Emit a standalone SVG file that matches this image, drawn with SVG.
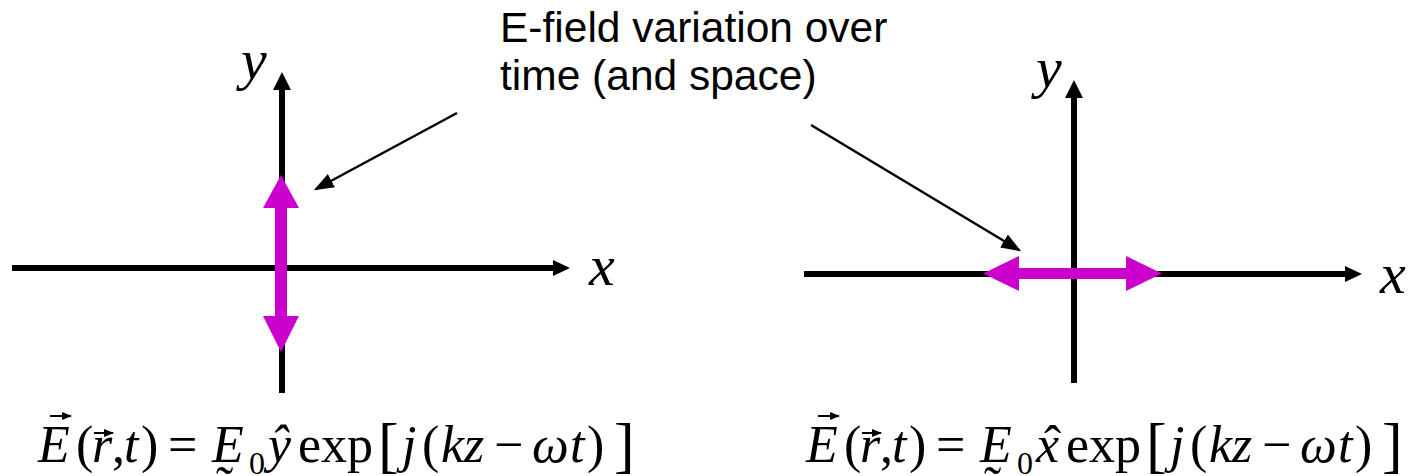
<svg xmlns="http://www.w3.org/2000/svg" width="1416" height="476" viewBox="0 0 1416 476">
<style>
.ax{stroke:#000;stroke-width:6;fill:none}
.hd{fill:#000}
.mg{fill:#CC00CC}
.ptr{stroke:#000;stroke-width:2.5;fill:none}
.lab{font-family:"Liberation Serif","Times New Roman",serif;font-style:italic;font-size:58px;fill:#000}
.note{font-family:"Liberation Sans",Arial,sans-serif;font-size:42.5px;fill:#000}
.eq{font-family:"Liberation Serif","Times New Roman",serif;font-size:52px;fill:#000}
.it{font-style:italic}
.sub{font-size:32px}
.br{font-size:62px}
.vec{stroke:#000;stroke-width:2;fill:none}
</style>
<defs>
<marker id="ah" markerWidth="8" markerHeight="6" refX="7" refY="3" orient="auto" markerUnits="strokeWidth">
<path d="M0,0 L8,3 L0,6 Z" fill="#000"/>
</marker>
<marker id="va" markerWidth="5" markerHeight="4" refX="4.5" refY="2" orient="auto" markerUnits="strokeWidth">
<path d="M0,0 L5,2 L0,4 Z" fill="#000"/>
</marker>
</defs>

<g id="left-axes">
<line class="ax" x1="12" y1="268" x2="554" y2="268"/>
<polygon class="hd" points="553,260 570,268 553,276"/>
<line class="ax" x1="282" y1="393" x2="282" y2="89"/>
<polygon class="hd" points="273,90 282,72 291,90"/>
<text class="lab" x="241" y="79">y</text>
<text class="lab" x="589" y="285">x</text>
</g>

<g id="left-field">
<polygon class="mg" points="281,175 299,208 287,208 287,316 299,316 281,352 263,316 275,316 275,208 263,208"/>
</g>

<g id="right-axes">
<line class="ax" x1="804" y1="274" x2="1346" y2="274"/>
<polygon class="hd" points="1345,266 1362,274 1345,282"/>
<line class="ax" x1="1074" y1="383" x2="1074" y2="97"/>
<polygon class="hd" points="1065,98 1074,80 1083,98"/>
<text class="lab" x="1036" y="87">y</text>
<text class="lab" x="1380" y="293">x</text>
</g>

<g id="right-field">
<polygon class="mg" points="983,273.5 1019,256 1019,268 1126,268 1126,256 1162,273.5 1126,291 1126,279 1019,279 1019,291"/>
</g>

<g id="note">
<text class="note" x="500" y="42">E-field variation over</text>
<text class="note" x="500" y="90">time (and space)</text>
</g>

<g id="connectors">
<line class="ptr" x1="457" y1="113" x2="316" y2="189" marker-end="url(#ah)"/>
<line class="ptr" x1="811" y1="125" x2="1019" y2="250" marker-end="url(#ah)"/>
</g>

<g id="eq-left" class="eq">
<text class="it" x="38" y="462">E</text>
<line class="vec" x1="50" y1="416" x2="71" y2="416" marker-end="url(#va)"/>
<text x="76" y="462">(</text>
<text class="it" x="92" y="462">r</text>
<line class="vec" x1="94" y1="433" x2="113" y2="433" marker-end="url(#va)"/>
<text x="112" y="462">,</text>
<text class="it" x="124" y="462">t</text>
<text x="141" y="462">)</text>
<text x="168" y="462">=</text>
<text class="it" x="212" y="462">E</text>
<text x="216" y="503">˜</text>
<text class="sub" x="249" y="474">0</text>
<text class="it" x="268" y="462">ŷ</text>
<text x="298" y="462">exp</text>
<text class="br" x="378" y="466">[</text>
<text class="it" x="402" y="462">j</text>
<text x="422" y="462">(</text>
<text class="it" x="441" y="462">kz</text>
<text x="494" y="462">−</text>
<text class="it" x="532" y="462">ω</text>
<text class="it" x="570" y="462">t</text>
<text x="587" y="462">)</text>
<text class="br" x="614" y="466">]</text>
</g>

<g id="eq-right" class="eq">
<text class="it" x="806" y="462">E</text>
<line class="vec" x1="818" y1="416" x2="839" y2="416" marker-end="url(#va)"/>
<text x="844" y="462">(</text>
<text class="it" x="860" y="462">r</text>
<line class="vec" x1="862" y1="433" x2="881" y2="433" marker-end="url(#va)"/>
<text x="880" y="462">,</text>
<text class="it" x="892" y="462">t</text>
<text x="909" y="462">)</text>
<text x="936" y="462">=</text>
<text class="it" x="980" y="462">E</text>
<text x="984" y="503">˜</text>
<text class="sub" x="1017" y="474">0</text>
<text class="it" x="1036" y="462">x</text>
<text x="1044" y="462">ˆ</text>
<text x="1066" y="462">exp</text>
<text class="br" x="1146" y="466">[</text>
<text class="it" x="1170" y="462">j</text>
<text x="1190" y="462">(</text>
<text class="it" x="1209" y="462">kz</text>
<text x="1262" y="462">−</text>
<text class="it" x="1300" y="462">ω</text>
<text class="it" x="1338" y="462">t</text>
<text x="1355" y="462">)</text>
<text class="br" x="1382" y="466">]</text>
</g>
</svg>
